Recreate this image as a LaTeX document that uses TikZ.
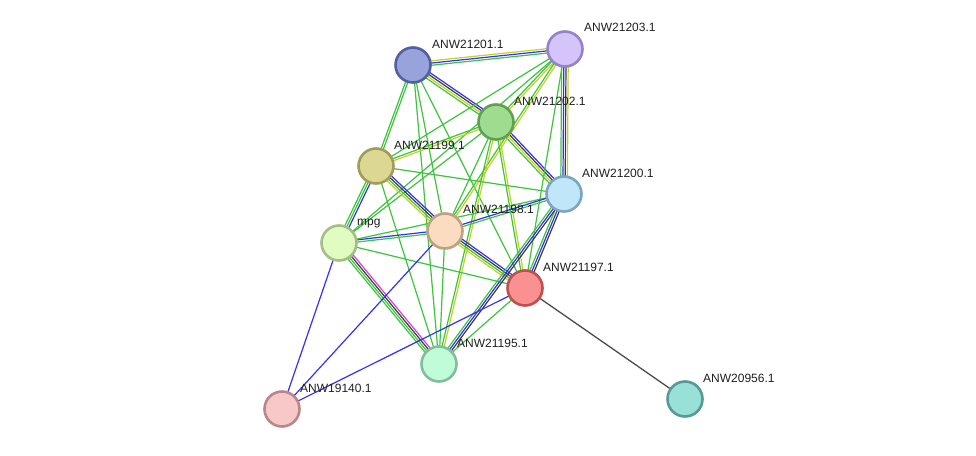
\documentclass[tikz,border=0pt]{standalone}
\usepackage{fontspec}
\setmainfont{Liberation Sans}
\usetikzlibrary{calc,backgrounds}
\definecolor{cG}{RGB}{60,196,60}
\definecolor{cB}{RGB}{50,50,240}
\definecolor{cK}{RGB}{60,60,60}
\definecolor{cY}{RGB}{196,210,30}
\definecolor{cM}{RGB}{220,60,220}
\definecolor{cD}{RGB}{75,75,75}
\definecolor{f01}{RGB}{152,163,220}\definecolor{b01}{RGB}{80,96,160}
\definecolor{f03}{RGB}{212,196,250}\definecolor{b03}{RGB}{150,130,200}
\definecolor{f02}{RGB}{160,220,144}\definecolor{b02}{RGB}{96,160,80}
\definecolor{f99}{RGB}{220,216,148}\definecolor{b99}{RGB}{160,156,90}
\definecolor{f00}{RGB}{192,230,250}\definecolor{b00}{RGB}{125,165,195}
\definecolor{f98}{RGB}{252,220,192}\definecolor{b98}{RGB}{190,160,130}
\definecolor{fmp}{RGB}{224,252,192}\definecolor{bmp}{RGB}{165,190,135}
\definecolor{f97}{RGB}{250,145,145}\definecolor{b97}{RGB}{190,80,80}
\definecolor{f95}{RGB}{192,252,216}\definecolor{b95}{RGB}{130,190,155}
\definecolor{f40}{RGB}{248,200,200}\definecolor{b40}{RGB}{185,135,135}
\definecolor{f56}{RGB}{152,224,216}\definecolor{b56}{RGB}{85,155,148}
\tikzset{
  ecG/.style={draw=cG,line width=1.2pt},
  ecB/.style={draw=cB,line width=1.2pt},
  ecK/.style={draw=cK,line width=1.2pt},
  ecY/.style={draw=cY,line width=1.2pt},
  ecM/.style={draw=cM,line width=1.2pt},
  ecD/.style={draw=cD,line width=1.3pt},
  prot/.style={circle,minimum size=35pt,inner sep=0pt,line width=2.6pt,fill=f#1,draw=b#1},
  lab/.style={anchor=base west,inner sep=0pt,text=black!88,font=\fontsize{12}{14}\selectfont}
}
\newcommand\stredge[3]{%
  \foreach \c [count=\i] in {#3} {\xdef\stnum{\i}}%
  \foreach \c [count=\i] in {#3} {%
    \pgfmathsetmacro\off{(\i-(\stnum+1)/2)*2.2}%
    \draw[ec\c] ($(#1)!\off pt!90:(#2)$) -- ($(#2)!\off pt!-90:(#1)$);%
  }%
}
\begin{document}
\begin{tikzpicture}[x=1pt,y=-1pt]
\useasboundingbox (0,0) rectangle (976,455);
% nodes
\node[prot=01] (n01) at (413,65) {};
\node[prot=03] (n03) at (565,49) {};
\node[prot=02] (n02) at (496,122) {};
\node[prot=99] (n99) at (376,166) {};
\node[prot=00] (n00) at (564,194) {};
\node[prot=98] (n98) at (445,231) {};
\node[prot=mp] (mpg) at (339,243) {};
\node[prot=97] (n97) at (525,288) {};
\node[prot=95] (n95) at (439,364) {};
\node[prot=40] (n40) at (282,409) {};
\node[prot=56] (n56) at (685,399) {};
% edges
\begin{scope}[on background layer]
\stredge{n01}{n03}{G,B,Y}
\stredge{n01}{n02}{G,Y,K,B}
\stredge{n02}{n00}{G,Y,K,B}
\stredge{n01}{n99}{G,G}
\stredge{n99}{mpg}{G,G,B}
\stredge{n01}{n98}{G}
\stredge{n01}{n97}{G}
\stredge{n01}{n95}{G}
\stredge{n03}{n00}{G,B,K,Y}
\stredge{n03}{n02}{G,Y}
\stredge{n03}{n99}{G}
\stredge{n03}{mpg}{G}
\stredge{n03}{n98}{G,Y}
\stredge{n03}{n97}{G}
\stredge{n02}{n99}{G,Y}
\stredge{n02}{n98}{G}
\stredge{n02}{n97}{G,Y}
\stredge{n02}{n95}{G,Y}
\stredge{n02}{mpg}{G}
\stredge{n99}{n98}{Y,G,K,B}
\stredge{n98}{n97}{Y,G,K,B}
\stredge{n99}{n00}{G}
\stredge{n99}{n95}{G}
\stredge{mpg}{n98}{G,B}
\stredge{mpg}{n00}{G}
\stredge{mpg}{n97}{G}
\stredge{mpg}{n95}{G,G,K,M}
\stredge{mpg}{n40}{B}
\stredge{n98}{n40}{B}
\stredge{n98}{n95}{G}
\stredge{n98}{n00}{G,B}
\stredge{n00}{n97}{G,B,K}
\stredge{n00}{n95}{G,B,K}
\stredge{n97}{n95}{G}
\stredge{n97}{n40}{B}
\stredge{n97}{n56}{D}
\end{scope}
% labels
\node[lab] (l01) at ($(n01)+(19,-17)$) {ANW21201.1};
\node[lab] (l03) at ($(n03)+(19,-18)$) {ANW21203.1};
\node[lab] (l02) at ($(n02)+(18,-17)$) {ANW21202.1};
\node[lab] (l99) at ($(n99)+(18,-17)$) {ANW21199.1};
\node[lab] (l00) at ($(n00)+(18,-17)$) {ANW21200.1};
\node[lab] (l98) at ($(n98)+(18,-18)$) {ANW21198.1};
\node[lab] (lmpg) at ($(mpg)+(18,-18)$) {mpg};
\node[lab] (l97) at ($(n97)+(18,-17)$) {ANW21197.1};
\node[lab] (l95) at ($(n95)+(18,-17)$) {ANW21195.1};
\node[lab] (l40) at ($(n40)+(18,-17)$) {ANW19140.1};
\node[lab] (l56) at ($(n56)+(18,-17)$) {ANW20956.1};
\end{tikzpicture}
\end{document}
